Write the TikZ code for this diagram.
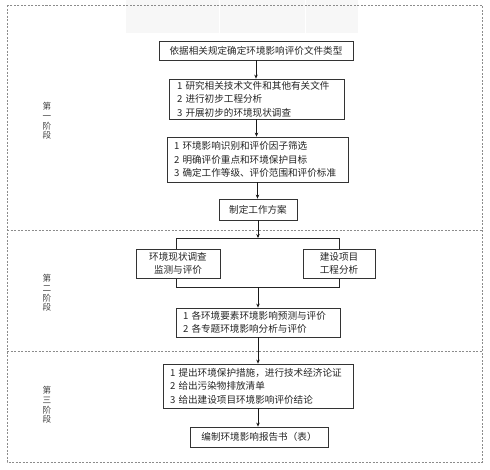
\documentclass[tikz,border=0pt]{standalone}
\usepackage{fontspec}
\newfontfamily\cjk{Noto Sans CJK SC}
\usetikzlibrary{arrows.meta}
\begin{document}
\begin{tikzpicture}[x=1pt,y=-1pt,
  box/.style={draw=black!80,line width=0.8pt,fill=white,inner xsep=0pt,inner ysep=0pt,
    font=\cjk\fontsize{9.6}{13.5}\selectfont,text=black!85},
  lbox/.style={box,align=left},
  cbox/.style={box,align=center},
  stage/.style={font=\cjk\fontsize{8.6}{9.6}\selectfont,text=black!75,align=center},
  sep/.style={draw=black!45,line width=0.6pt,dash pattern=on 2pt off 1.5pt},
  arr/.style={draw=black!90,line width=0.9pt,-{Stealth[length=4pt,width=3.5pt]}},
  ln/.style={draw=black!85,line width=0.8pt}]
\useasboundingbox (0,0) rectangle (490,469);
% faint artifact at top
\fill[black!3] (126,0) rectangle (358,33);
\draw[white,line width=0.6pt] (219,0) -- (219,33) (305,0) -- (305,33);
% outer frame and separators
\draw[sep] (7,5) rectangle (482,462);
\draw[sep] (7,230) -- (482,230);
\draw[sep] (7,351) -- (482,351);
% stage labels
\node[stage] (s1) at (47,121) {第\\一\\阶\\段};
\node[stage] (s2) at (47,293) {第\\二\\阶\\段};
\node[stage] (s3) at (47,405) {第\\三\\阶\\段};
% bracket frame behind the two boxes
\coordinate (btl) at (176,238);
\coordinate (bbr) at (339,287);
\coordinate (tj) at (258,238);
\coordinate (bj) at (258,287);
\draw[ln] (btl) rectangle (bbr);
% boxes
\node[cbox,minimum width=194pt,minimum height=19pt] (b1) at (256,50.5) {依据相关规定确定环境影响评价文件类型};
\node[lbox,minimum width=175pt,minimum height=40pt,text width=159pt] (b2) at (256.5,99)
  {1 研究相关技术文件和其他有关文件\\2 进行初步工程分析\\3 开展初步的环境现状调查};
\node[lbox,minimum width=181pt,minimum height=45pt,text width=167pt] (b3) at (257.5,159.5)
  {1 环境影响识别和评价因子筛选\\2 明确评价重点和环境保护目标\\3 确定工作等级、评价范围和评价标准};
\node[cbox,minimum width=78pt,minimum height=21pt] (b4) at (258,209.5) {制定工作方案};
\node[cbox,minimum width=84pt,minimum height=29pt] (bl) at (178,263.5) {环境现状调查\\监测与评价};
\node[cbox,minimum width=72pt,minimum height=29pt] (br) at (339,263.5) {建设项目\\工程分析};
\node[lbox,minimum width=164pt,minimum height=29pt,text width=150pt] (b5) at (258,322.5)
  {1 各环境要素环境影响预测与评价\\2 各专题环境影响分析与评价};
\node[lbox,minimum width=190pt,minimum height=44pt,text width=176pt] (b6) at (258,386)
  {1 提出环境保护措施，进行技术经济论证\\2 给出污染物排放清单\\3 给出建设项目环境影响评价结论};
\node[cbox,minimum width=138pt,minimum height=20pt] (b7) at (259,437) {编制环境影响报告书（表）};
% connectors
\draw[arr] (b1.south) -- (b1.south |- b2.north);
\draw[arr] (b2.south) -- (b2.south |- b3.north);
\draw[arr] (b3.south) -- (b3.south |- b4.north);
\draw[arr] (b4.south) -- (tj);
\draw[arr] (bj) -- (bj |- b5.north);
\draw[arr] (b5.south) -- (b5.south |- b6.north);
\draw[arr] (b6.south) -- (b6.south |- b7.north);
\end{tikzpicture}
\end{document}
